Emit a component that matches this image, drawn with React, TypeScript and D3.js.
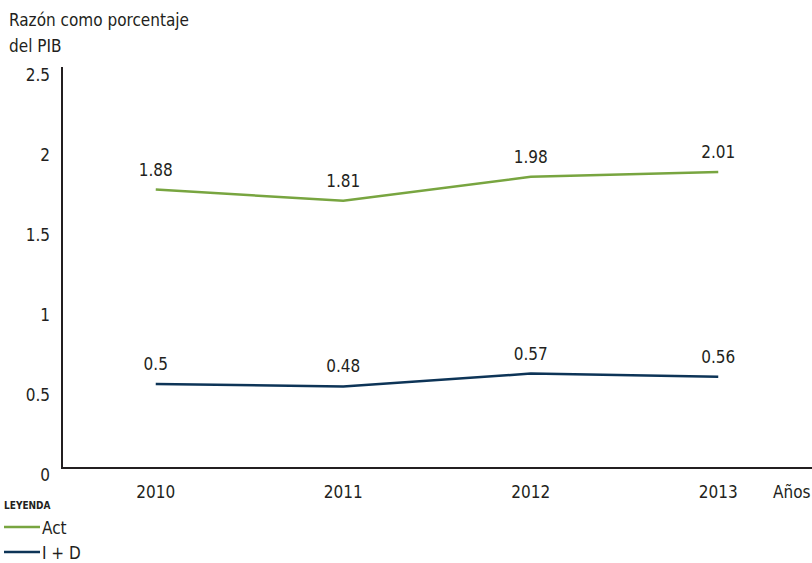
import React from "react";
import * as d3 from "d3";

const years = ["2010", "2011", "2012", "2013"];
const actValues = [1.74, 1.67, 1.82, 1.85];
const idValues = [0.525, 0.51, 0.59, 0.57];
const actLabels = ["1.88", "1.81", "1.98", "2.01"];
const idLabels = ["0.5", "0.48", "0.57", "0.56"];
const yTicks = [0, 0.5, 1, 1.5, 2, 2.5];
const yTickLabels = ["0", "0.5", "1", "1.5", "2", "2.5"];

const W = 812;
const H = 563;
const FONT = "'DejaVu Sans Condensed', 'Liberation Sans Narrow', sans-serif";
const FS = 17;

export default function App() {
  const x = d3.scaleBand<string>().domain(years).range([62, 812]).padding(0);
  const y = d3.scaleLinear().domain([0, 2.5]).range([468, 68]);
  const cx = (d: string) => (x(d) as number) + x.bandwidth() / 2;
  const line = d3
    .line<number>()
    .x((_, i) => cx(years[i]))
    .y((d) => y(d));
  const series = [
    { name: "Act", values: actValues, labels: actLabels, color: "#78a540" },
    { name: "I + D", values: idValues, labels: idLabels, color: "#0d3457" },
  ];
  return (
    <svg
      width={W}
      height={H}
      style={{ position: "absolute", left: 0, top: 0, fontFamily: FONT }}
    >
      <text x={9} y={26} fontSize={FS} fill="#231f20">Razón como porcentaje</text>
      <text x={9} y={52} fontSize={FS} fill="#231f20">del PIB</text>
      {yTicks.map((t, i) => (
        <text key={t} x={50} y={y(t) + 13} fontSize={FS} textAnchor="end" fill="#231f20">
          {yTickLabels[i]}
        </text>
      ))}
      <path d={`M62,${y(2.5) - 1}V468H812`} fill="none" stroke="#231f20" strokeWidth={2} />
      {years.map((yr) => (
        <text key={yr} x={cx(yr)} y={498} fontSize={FS} textAnchor="middle" fill="#231f20">
          {yr}
        </text>
      ))}
      <text x={773} y={498} fontSize={FS} fill="#231f20">Años</text>
      {series.map((s) => (
        <g key={s.name}>
          <path d={line(s.values) || ""} fill="none" stroke={s.color} strokeWidth={2.5} />
          {s.values.map((v, i) => (
            <text
              key={i}
              x={cx(years[i])}
              y={y(v) - 14}
              fontSize={FS}
              textAnchor="middle"
              fill="#231f20"
            >
              {s.labels[i]}
            </text>
          ))}
        </g>
      ))}
      <text x={4} y={509} fontSize={10} fontWeight="bold" fill="#231f20">LEYENDA</text>
      {series.map((s, i) => (
        <g key={s.name} transform={`translate(0, ${527 + i * 25})`}>
          <line x1={4} x2={40} y1={0} y2={0} stroke={s.color} strokeWidth={2.5} />
          <text x={42} y={7} fontSize={FS} fill="#231f20">{s.name}</text>
        </g>
      ))}
    </svg>
  );
}
